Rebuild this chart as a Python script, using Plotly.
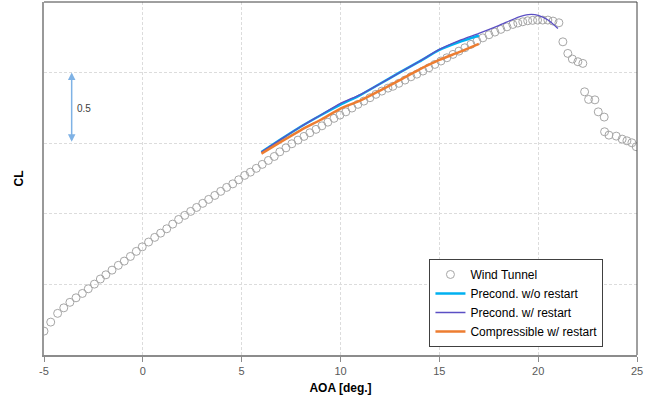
import plotly.graph_objects as go

# Wind tunnel data
wt_aoa = [-5.00, -4.66, -4.31, -4.00, -3.69, -3.38, -3.06, -2.76, -2.45, -2.15,
          -1.87, -1.56, -1.24, -0.94, -0.63, -0.33, -0.03, 0.29, 0.60, 0.90,
          1.21, 1.51, 1.81, 2.12, 2.42, 2.72, 3.03, 3.33, 3.64, 3.94,
          4.24, 4.55, 4.85, 5.15, 5.44, 5.74, 6.04, 6.35, 6.65, 6.93,
          7.24, 7.54, 7.85, 8.15, 8.45, 8.76, 9.06, 9.36, 9.67, 9.97,
          10.27, 10.58, 10.88, 11.18, 11.49, 11.79, 12.09, 12.40, 12.65, 12.95,
          13.26, 13.56, 13.86, 14.17, 14.47, 14.77, 15.08, 15.38, 15.69, 15.99,
          16.29, 16.60, 16.90, 17.20, 17.51, 17.81, 18.11, 18.42, 18.72, 18.97,
          19.22, 19.47, 19.72, 19.97, 20.23, 20.49, 20.75, 21.05,
          21.25, 21.50, 21.73, 22.01, 22.26, 22.35, 22.55, 22.87, 23.04, 23.34,
          23.36, 23.58, 23.95, 24.25, 24.49, 24.74, 24.96]
wt_cl = [-0.331, -0.267, -0.205, -0.166, -0.127, -0.095, -0.064, -0.031, 0.002, 0.038,
         0.068, 0.101, 0.135, 0.165, 0.198, 0.234, 0.266, 0.300, 0.333, 0.363,
         0.394, 0.427, 0.460, 0.489, 0.517, 0.545, 0.574, 0.602, 0.630, 0.659,
         0.687, 0.712, 0.741, 0.772, 0.795, 0.822, 0.850, 0.878, 0.906, 0.939,
         0.967, 0.996, 1.022, 1.048, 1.074, 1.098, 1.123, 1.149, 1.176, 1.199,
         1.222, 1.249, 1.275, 1.298, 1.322, 1.346, 1.369, 1.390, 1.403, 1.424,
         1.447, 1.470, 1.489, 1.511, 1.534, 1.558, 1.582, 1.605, 1.629, 1.652,
         1.676, 1.700, 1.723, 1.746, 1.768, 1.787, 1.806, 1.824, 1.841, 1.851,
         1.860, 1.867, 1.870, 1.872, 1.872, 1.872, 1.865, 1.853,
         1.718, 1.636, 1.596, 1.577, 1.565, 1.364, 1.310, 1.307, 1.222, 1.185,
         1.081, 1.057, 1.050, 1.029, 1.017, 1.003, 0.975]

# CFD results
pre_norst_aoa = [6, 7, 8, 9, 10, 11, 12, 13, 14, 15, 16, 17]
pre_norst_cl = [0.937, 1.029, 1.118, 1.198, 1.273, 1.341, 1.421, 1.501, 1.579, 1.661, 1.717, 1.763]

pre_rst_aoa = [6, 7, 8, 9, 10, 11, 12, 13, 14, 15, 16, 17, 18, 19, 19.5, 20, 20.5, 21]
pre_rst_cl = [0.937, 1.029, 1.118, 1.200, 1.282, 1.344, 1.421, 1.501, 1.580, 1.664, 1.727, 1.778,
              1.833, 1.893, 1.911, 1.906, 1.872, 1.812]

comp_rst_aoa = [6, 7, 8, 9, 10, 11, 12, 13, 14, 15, 16, 17]
comp_rst_cl = [0.926, 1.011, 1.093, 1.166, 1.245, 1.302, 1.373, 1.447, 1.523, 1.590, 1.645, 1.704]

x_ticks = [-5, 0, 5, 10, 15, 20, 25]
x_tick_labels = ["-5", "0", "5", "10", "15", "20", "25"]

FONT = "Liberation Sans, Arial, sans-serif"

fig = go.Figure()
fig.add_trace(go.Scatter(
    x=wt_aoa, y=wt_cl, mode="markers", name="Wind Tunnel",
    marker=dict(symbol="circle-open", size=8, color="#a6a6a6", line=dict(width=1, color="#a6a6a6")),
))
fig.add_trace(go.Scatter(
    x=pre_norst_aoa, y=pre_norst_cl, mode="lines", name="Precond. w/o restart",
    line=dict(color="#00b0f0", width=2.5, shape="spline", smoothing=0.6),
))
fig.add_trace(go.Scatter(
    x=pre_rst_aoa, y=pre_rst_cl, mode="lines", name="Precond. w/ restart",
    line=dict(color="#5b4fc4", width=1.3, shape="spline", smoothing=0.6),
))
fig.add_trace(go.Scatter(
    x=comp_rst_aoa, y=comp_rst_cl, mode="lines", name="Compressible w/ restart",
    line=dict(color="#ed7d31", width=2.5, shape="spline", smoothing=0.6),
))

fig.update_layout(
    width=664, height=399,
    margin=dict(l=44, r=27, t=2, b=44),
    paper_bgcolor="white", plot_bgcolor="white",
    font=dict(family=FONT, size=12, color="#000000"),
    showlegend=True,
    legend=dict(
        x=0.650, y=0.272, xanchor="left", yanchor="top",
        bgcolor="white", bordercolor="#404040", borderwidth=1,
        font=dict(family=FONT, size=12, color="#000000"),
        tracegroupgap=0, itemwidth=30,
    ),
    xaxis=dict(
        range=[-5, 25], tickvals=x_ticks, ticktext=x_tick_labels,
        showgrid=True, gridcolor="#dcdcdc", griddash="3px,2px", gridwidth=1,
        zeroline=False, showline=True, linecolor="#8c8c8c", linewidth=1.5,
        ticks="outside", ticklen=5, tickcolor="#8c8c8c", tickwidth=1,
        tickfont=dict(family=FONT, size=11, color="#595959"),
        title=dict(text="<b>AOA [deg.]</b>", font=dict(family=FONT, size=12, color="#000000"), standoff=8),
    ),
    yaxis=dict(
        range=[-0.5, 2.0], dtick=0.5, tick0=0,
        showgrid=True, gridcolor="#dcdcdc", griddash="3px,2px", gridwidth=1,
        zeroline=False, showline=True, linecolor="#999999", linewidth=2,
        showticklabels=False, ticks="",
        title=dict(text="<b>CL</b>", font=dict(family=FONT, size=12, color="#000000"), standoff=16),
    ),
    shapes=[
        dict(type="line", xref="paper", yref="paper", x0=0, x1=1, y0=1, y1=1,
             line=dict(color="#404040", width=1)),
        dict(type="line", xref="paper", yref="paper", x0=1, x1=1, y0=0, y1=1,
             line=dict(color="#404040", width=1)),
    ],
    annotations=[
        dict(x=-3.6, y=1.5, ax=-3.6, ay=1.0, xref="x", yref="y", axref="x", ayref="y",
             text="", showarrow=True, arrowhead=2, startarrowhead=2, arrowside="end+start",
             arrowsize=1, startarrowsize=1, arrowwidth=1.5, arrowcolor="#7fb2e5"),
        dict(x=-2.98, y=1.246, xref="x", yref="y", text="0.5", showarrow=False,
             font=dict(family=FONT, size=10, color="#404040")),
    ],
)

fig.write_html("out.html", config={"displayModeBar": False},
               post_script="document.body.style.margin='0';document.body.style.overflow='hidden';")
